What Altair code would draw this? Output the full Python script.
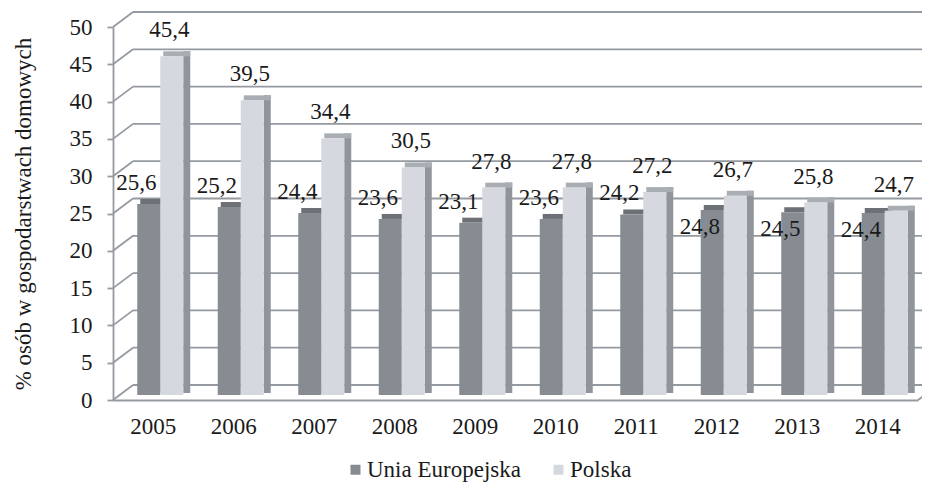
import altair as alt
import pandas as pd

# ---- data ----
years = ["2005", "2006", "2007", "2008", "2009", "2010", "2011", "2012", "2013", "2014"]
eu_values = [25.6, 25.2, 24.4, 23.6, 23.1, 23.6, 24.2, 24.8, 24.5, 24.4]
pl_values = [45.4, 39.5, 34.4, 30.5, 27.8, 27.8, 27.2, 26.7, 25.8, 24.7]
y_ticks = [0, 5, 10, 15, 20, 25, 30, 35, 40, 45, 50]
series_names = ["Unia Europejska", "Polska"]
y_title = "% osób w gospodarstwach domowych"

df = pd.DataFrame({"year": years, "eu": eu_values, "pl": pl_values})
ticks_df = pd.DataFrame({"v": y_ticks})
floor_df = pd.DataFrame({"v": [y_ticks[0]]})

# ---- style ----
W, H = 805, 373
FONT = "Liberation Serif, Times New Roman, Times, DejaVu Serif, serif"
FS = 23
TXT = "#1a1a1a"
GRID = "#959aa0"
EU_FRONT, EU_TOP, EU_SIDE = "#878b92", "#6d7176", "#6d7176"
PL_FRONT, PL_TOP, PL_SIDE = "#d5d8df", "#a9aeb4", "#8f959b"
DX, DY = 20, 15  # depth of the 3D box

yscale = alt.Scale(domain=[0, 50], nice=False, zero=True)
xscale = alt.Scale(domain=years, paddingInner=0, paddingOuter=0)

y_axis = alt.Axis(
    orient="left",
    values=y_ticks, grid=False, domain=True, domainColor=GRID, domainWidth=1.8,
    ticks=True, tickColor=GRID, tickSize=6, tickWidth=1.8,
    labelFont=FONT, labelFontSize=FS, labelColor=TXT, labelPadding=15,
    title=y_title, titleFont=FONT, titleFontSize=FS, titleFontWeight="normal",
    titleColor=TXT, titlePadding=34,
)
x_axis = alt.Axis(
    orient="bottom",
    title=None, domain=True, domainColor=GRID, domainWidth=1.8, ticks=False,
    labelAngle=0, labelFont=FONT, labelFontSize=FS, labelColor=TXT, labelPadding=15,
)


def Y(field):
    return alt.Y(f"{field}:Q", scale=yscale, axis=y_axis)


X = alt.X("year:N", scale=xscale, axis=x_axis)

# back wall gridlines
back_grid = alt.Chart(ticks_df).mark_rule(color=GRID, strokeWidth=1.8, yOffset=-DY).encode(
    y=Y("v"), x=alt.value(DX), x2=alt.value(W + DX),
)
# side wall diagonals
diag = alt.Chart(ticks_df).mark_rule(color=GRID, strokeWidth=1.8, y2Offset=-DY).encode(
    y=Y("v"), y2=alt.Y2("v:Q"), x=alt.value(0), x2=alt.value(DX),
)
# floor right edge
floor_r = alt.Chart(floor_df).mark_rule(color=GRID, strokeWidth=1.8, y2Offset=-DY).encode(
    y=Y("v"), y2=alt.Y2("v:Q"), x=alt.value(W), x2=alt.value(W + DX),
)

base = alt.Chart(df)
color_scale = alt.Scale(domain=series_names, range=[EU_FRONT, PL_FRONT])
legend = alt.Legend(
    orient="none", legendX=231, legendY=431, direction="horizontal", title=None,
    symbolType="square", symbolSize=100, symbolStrokeWidth=0,
    labelFont=FONT, labelFontSize=FS, labelColor=TXT, columnPadding=26,
    labelOffset=0, padding=0,
)


def bar3d(field, name, fx, ctop, cside):
    side = base.mark_bar(width=7, xOffset=fx + 15, yOffset=-10, y2Offset=-7, color=cside).encode(
        x=X, y=Y(field), y2=alt.Y2(datum=0))
    top = base.mark_bar(width=27, xOffset=fx + 5, yOffset=-10, y2Offset=-5, color=ctop).encode(
        x=X, y=Y(field), y2=alt.Y2(f"{field}:Q"))
    front = base.transform_calculate(series=f"'{name}'").mark_bar(
        width=23, xOffset=fx, yOffset=-5, y2Offset=-5
    ).encode(
        x=X, y=Y(field), y2=alt.Y2(datum=0),
        color=alt.Color("series:N", scale=color_scale, legend=legend),
    )
    return [side, top, front]


eu_bar = bar3d("eu", series_names[0], -4.5, EU_TOP, EU_SIDE)
pl_bar = bar3d("pl", series_names[1], 18.5, PL_TOP, PL_SIDE)

txt = dict(font=FONT, fontSize=FS, color=TXT, baseline="middle", align="center")
pl_lbl = base.transform_calculate(lbl="replace(format(datum.pl, '.1f'), '.', ',')").mark_text(
    dx=16, dy=-31, **txt).encode(x=X, y=Y("pl"), text="lbl:N")
eu_lbl_up = base.transform_filter("datum.pl - datum.eu >= 2.5").transform_calculate(
    lbl="replace(format(datum.eu, '.1f'), '.', ',')").mark_text(dx=-17, dy=-26, **txt).encode(
    x=X, y=Y("eu"), text="lbl:N")
eu_lbl_dn = base.transform_filter("datum.pl - datum.eu < 2.5").transform_calculate(
    lbl="replace(format(datum.eu, '.1f'), '.', ',')").mark_text(dx=-17, dy=12, **txt).encode(
    x=X, y=Y("eu"), text="lbl:N")

chart = alt.layer(
    back_grid, diag, floor_r, *eu_bar, *pl_bar, pl_lbl, eu_lbl_up, eu_lbl_dn
).resolve_axis(y="shared", x="shared").properties(
    width=W, height=H,
    padding={"left": 105, "top": 19, "right": 4, "bottom": 82},
    autosize=alt.AutoSizeParams(type="none"),
    background="white",
).configure_view(stroke="transparent", strokeWidth=0)

chart.save("out.html", embed_options={"renderer": "svg", "actions": False})
